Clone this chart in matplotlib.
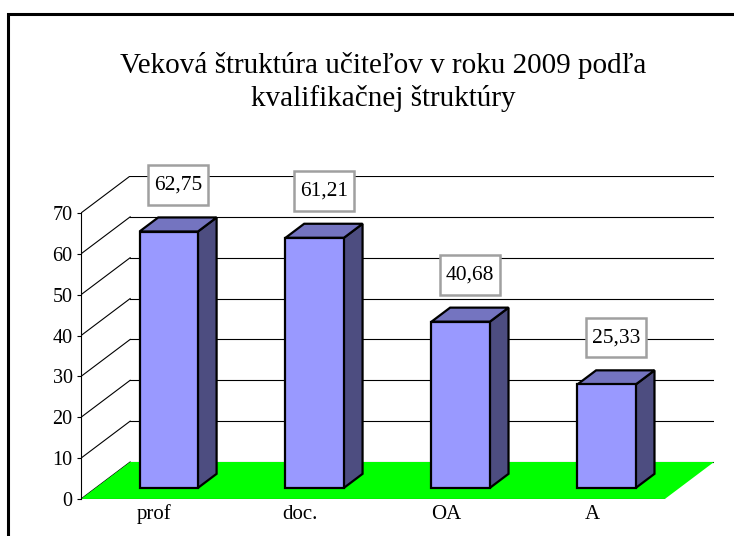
import matplotlib.pyplot as plt
from matplotlib.patches import Polygon, Rectangle

# dáta
categories = ['prof', 'doc.', 'OA', 'A']
values = [62.75, 61.21, 40.68, 25.33]
value_labels = ['62,75', '61,21', '40,68', '25,33']
y_ticks = [0, 10, 20, 30, 40, 50, 60, 70]

plt.rcParams['font.family'] = ['Liberation Serif', 'DejaVu Serif']

W, H = 734, 536
fig = plt.figure(figsize=(W / 100, H / 100), dpi=100)

# hĺbka 3D v dátových jednotkách
DX = 49 / 145.5
DY = 37 / 4.086
D0, D1 = 0.3, 0.68
HALF = 0.2

n = len(categories)
ymax = y_ticks[-1]
ax = fig.add_axes([81 / W, 1 - 499 / H, 633 / W, 323 / H])
ax.set_xlim(0, n + DX)
ax.set_ylim(0, ymax + DY)

# mriežka na zadnej a bočnej stene
for v in y_ticks:
    ax.plot([DX, n + DX], [v + DY, v + DY], color='black', lw=0.8, zorder=1)
    ax.plot([0, DX], [v, v + DY], color='black', lw=0.8, zorder=1)

# podlaha
floor = Polygon([(0, 0), (n, 0), (n + DX, DY), (DX, DY)], closed=True,
                facecolor='#00ff00', edgecolor='none', zorder=2)
ax.add_patch(floor)
ax.plot([0, n], [0, 0], color='#202020', lw=0.8, zorder=2)

# stĺpce
for i, v in enumerate(values):
    c = i + 0.5
    x0 = c - HALF + D0 * DX
    x1 = c + HALF + D0 * DX
    yb = D0 * DY
    yt = v + D0 * DY
    ddx = (D1 - D0) * DX
    ddy = (D1 - D0) * DY
    front = [(x0, yb), (x1, yb), (x1, yt), (x0, yt)]
    top = [(x0, yt), (x1, yt), (x1 + ddx, yt + ddy), (x0 + ddx, yt + ddy)]
    side = [(x1, yb), (x1 + ddx, yb + ddy), (x1 + ddx, yt + ddy), (x1, yt)]
    for pts, col in [(side, '#4d4d80'), (top, '#7474c0'), (front, '#9999ff')]:
        ax.add_patch(Polygon(pts, closed=True, facecolor=col, edgecolor='black',
                             lw=1.6, joinstyle='miter', zorder=3 + i))
    ax.text(c + (D0 + D1) / 2 * DX, v + D1 * DY + 8.0, value_labels[i],
            ha='center', va='center', fontsize=15.5, zorder=10,
            bbox=dict(boxstyle='square,pad=0.28', facecolor='white',
                      edgecolor='#a0a0a0', lw=1.8, mutation_aspect=1.7))

# osi
for s in ['top', 'right']:
    ax.spines[s].set_visible(False)
ax.spines['bottom'].set_visible(False)
ax.spines['left'].set_bounds(0, ymax)
ax.spines['left'].set_linewidth(0.8)
ax.set_yticks(y_ticks)
ax.tick_params(axis='y', direction='out', length=3, width=0.8, pad=3, labelsize=14.5)
ax.set_xticks([i + 0.5 for i in range(n)])
ax.set_xticklabels(categories)
ax.tick_params(axis='x', length=0, pad=4, labelsize=15)
ax.patch.set_visible(False)

# nadpis
fig.text(383 / W, 1 - 82 / H, 'Veková štruktúra učiteľov v roku 2009 podľa\nkvalifikačnej štruktúry',
         ha='center', va='center', fontsize=21, linespacing=1.3)

# rámček
fig.patches.append(Rectangle((8 / W, -0.1), 1.0, 1 - 14 / H + 0.1, transform=fig.transFigure,
                             fill=False, edgecolor='black', lw=2.2))

fig.savefig('out.png', dpi=100)
